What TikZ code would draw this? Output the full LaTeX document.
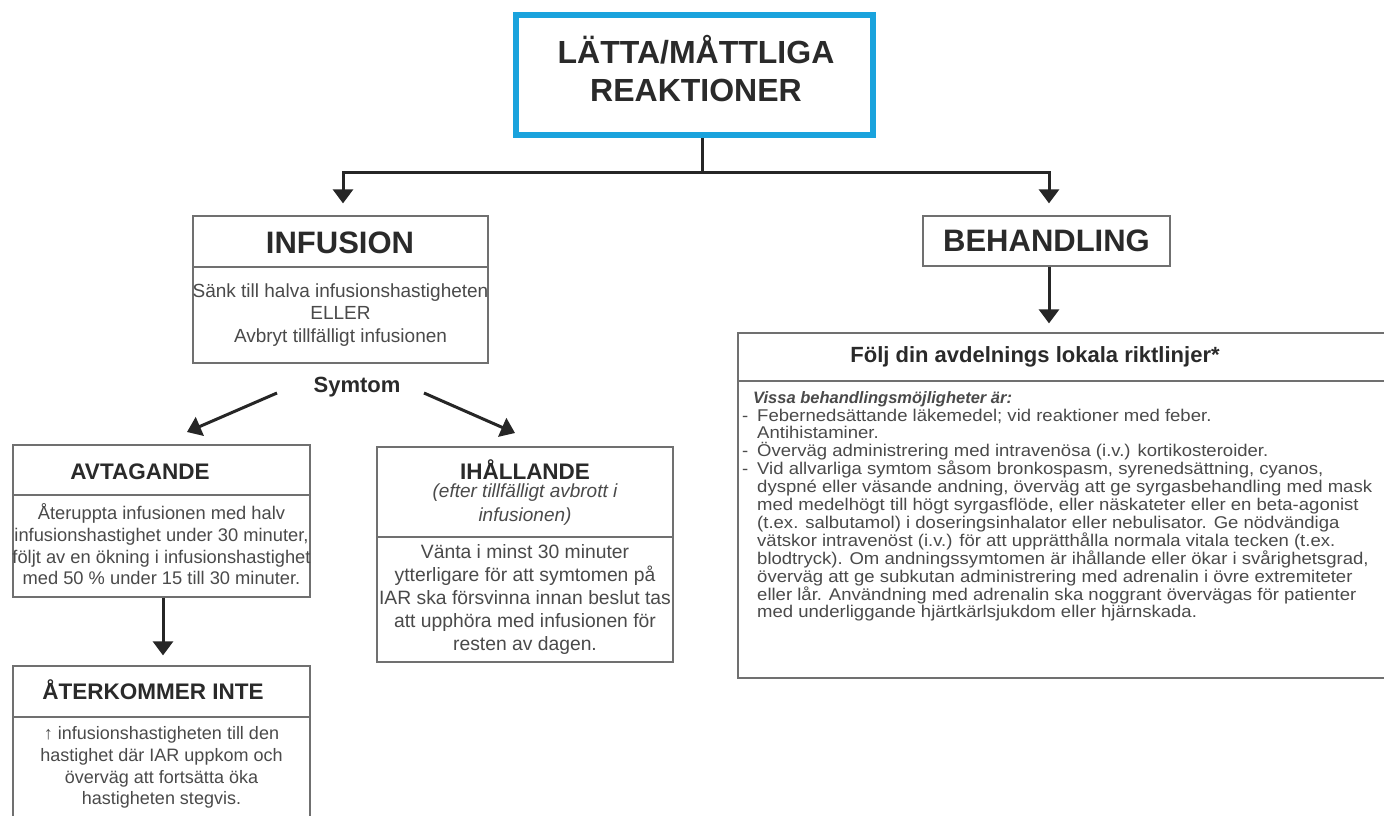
\documentclass[tikz,border=0pt]{standalone}
\usepackage{fontspec}
\setmainfont{Liberation Sans}
\newfontfamily\widesans[FakeStretch=1.09]{Liberation Sans}
\usetikzlibrary{arrows.meta}
\definecolor{lblue}{HTML}{1AA3DD}
\definecolor{boxgray}{HTML}{707070}
\definecolor{titlec}{HTML}{2A2A2A}
\definecolor{bodyc}{HTML}{4A4A4A}
\definecolor{arrc}{HTML}{262626}
\tikzset{
  box/.style={draw=boxgray, line width=1.3pt, rectangle, inner sep=0pt, fill=white},
  sepline/.style={draw=boxgray, line width=1.3pt},
  conn/.style={draw=arrc, line width=3pt},
  arr/.style={draw=arrc, line width=3pt, -{Triangle[width=20pt,length=14pt]}},
  bigtitle/.style={font=\bfseries\fontsize{31}{38}\selectfont, text=titlec, inner sep=0pt, align=center},
  title/.style={font=\bfseries\fontsize{22.5}{26}\selectfont, text=titlec, inner sep=0pt},
  body/.style={font=\fontsize{18.5}{22.5}\selectfont, text=bodyc, align=center, inner sep=0pt},
}
\begin{document}
\begin{tikzpicture}[x=1pt,y=-1pt]
\clip (0,0) rectangle (1384,815);
\fill[white] (0,0) rectangle (1384,815);

% boxes
\node[box, draw=lblue, line width=6pt, minimum width=357pt, minimum height=120pt] (top) at (694.5,75) {};
\node[box, minimum width=295pt, minimum height=147pt] (inf) at (340.5,289.5) {};
\node[box, minimum width=247pt, minimum height=50pt] (beh) at (1046.5,241) {};
\node[box, minimum width=662pt, minimum height=345pt] (big) at (1069,505.5) {};
\node[box, minimum width=297pt, minimum height=152pt] (avt) at (161.5,521) {};
\node[box, minimum width=296pt, minimum height=215pt] (ihal) at (525,554.5) {};
\node[box, minimum width=297pt, minimum height=164pt] (ater) at (161.5,748) {};

% separators
\draw[sepline] (inf.west |- 0,267) -- (inf.east |- 0,267);
\draw[sepline] (big.west |- 0,381) -- (big.east |- 0,381);
\draw[sepline] (avt.west |- 0,495) -- (avt.east |- 0,495);
\draw[sepline] (ihal.west |- 0,537) -- (ihal.east |- 0,537);
\draw[sepline] (ater.west |- 0,717) -- (ater.east |- 0,717);

% texts
\node[bigtitle, font=\bfseries\fontsize{32}{38}\selectfont] (toptxt) at (696,69) {LÄTTA/MÅTTLIGA\\REAKTIONER};
\node[bigtitle] (inftitle) at (340,243) {INFUSION};
\node[body, font=\fontsize{19}{22.5}\selectfont] (infbody) at (340.5,315) {Sänk till halva infusionshastigheten\\ELLER\\Avbryt tillfälligt infusionen};
\node[title, font=\bfseries\fontsize{22}{26}\selectfont] (sym) at (357,387) {Symtom};
\node[bigtitle] (behtitle) at (1046.5,241) {BEHANDLING};

\node[title] (avttitle) at (140,472) {AVTAGANDE};
\node[body, font=\fontsize{18.3}{21.7}\selectfont] (avtbody) at (161.5,544.5) {Återuppta infusionen med halv\\infusionshastighet under 30 minuter,\\följt av en ökning i infusionshastighet\\med 50 \% under 15 till 30 minuter.};

\node[title] (atertitle) at (153,690) {ÅTERKOMMER INTE};
\node[body, font=\fontsize{18}{21.7}\selectfont] (aterbody) at (161.5,767.5) {↑ infusionshastigheten till den\\hastighet där IAR uppkom och\\överväg att fortsätta öka\\hastigheten stegvis.};

\node[title] (ihaltitle) at (525,470) {IHÅLLANDE};
\node[body, font=\itshape\fontsize{19}{24}\selectfont] (ihalsub) at (525,505) {(efter tillfälligt avbrott i\\infusionen)};
\node[body, font=\fontsize{19.3}{23}\selectfont] (ihalbody) at (525,599) {Vänta i minst 30 minuter\\ytterligare för att symtomen på\\IAR ska försvinna innan beslut tas\\att upphöra med infusionen för\\resten av dagen.};

\node[title, font=\bfseries\fontsize{22}{26}\selectfont] (bigtitle) at (1035,357) {Följ din avdelnings lokala riktlinjer*};
\node[anchor=north west, align=left, inner sep=0pt, text=bodyc, font=\widesans\fontsize{17}{17.9}\selectfont] (bigbody) at (742,391) {%
\hspace*{11pt}{\normalfont\fontsize{16.5}{17.9}\selectfont\textbf{\textit{Vissa behandlingsmöjligheter är:}}}\\
\makebox[15pt][l]{-}Febernedsättande läkemedel; vid reaktioner med feber.\\
\hspace*{15pt}Antihistaminer.\\
\makebox[15pt][l]{-}Överväg administrering med intravenösa (i.v.) kortikosteroider.\\
\makebox[15pt][l]{-}Vid allvarliga symtom såsom bronkospasm, syrenedsättning, cyanos,\\
\hspace*{15pt}dyspné eller väsande andning, överväg att ge syrgasbehandling med mask\\
\hspace*{15pt}med medelhögt till högt syrgasflöde, eller näskateter eller en beta-agonist\\
\hspace*{15pt}(t.ex. salbutamol) i doseringsinhalator eller nebulisator. Ge nödvändiga\\
\hspace*{15pt}vätskor intravenöst (i.v.) för att upprätthålla normala vitala tecken (t.ex.\\
\hspace*{15pt}blodtryck). Om andningssymtomen är ihållande eller ökar i svårighetsgrad,\\
\hspace*{15pt}överväg att ge subkutan administrering med adrenalin i övre extremiteter\\
\hspace*{15pt}eller lår. Användning med adrenalin ska noggrant övervägas för patienter\\
\hspace*{15pt}med underliggande hjärtkärlsjukdom eller hjärnskada.};

% connectors
\coordinate (j) at (702,172);
\draw[conn] (top.south -| j) -- (j);
\draw[arr, shorten >=12pt] (j) -| ([xshift=2.5pt]inf.north);
\draw[arr, shorten >=12pt] (j) -| ([xshift=2.5pt]beh.north);
\draw[arr, shorten >=9pt] ([xshift=2.5pt]beh.south) -- ([xshift=2.5pt]beh.south |- big.north);
\coordinate (sl) at (277,393);
\coordinate (sle) at (187,432);
\coordinate (sr) at (424,393);
\coordinate (sre) at (515,433);
\draw[arr] (sl) -- (sle);
\draw[arr] (sr) -- (sre);
\draw[arr, shorten >=10pt] ([xshift=1.5pt]avt.south) -- ([xshift=1.5pt]avt.south |- ater.north);
\end{tikzpicture}
\end{document}
